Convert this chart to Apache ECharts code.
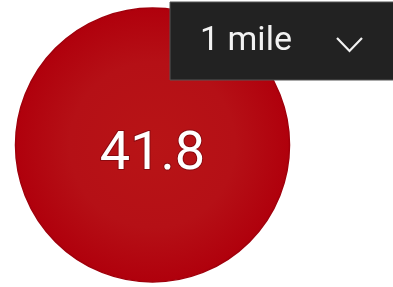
<!DOCTYPE html>
<html><head><meta charset="utf-8">
<script src="https://cdn.jsdelivr.net/npm/echarts@6/dist/echarts.min.js"></script>
<style>html,body{margin:0;padding:0;background:#fff}#c{width:393px;height:287px}</style>
</head><body><div id="c"></div>
<script>
const categories = ['1 mile'];
const values = [41.8];
const dropdownLabel = '1 mile';

const chart = echarts.init(document.getElementById('c'), null, {renderer: 'canvas'});
chart.setOption({
  animation: false,
  series: [{
    type: 'pie',
    z: 1,
    center: [152.5, 145],
    radius: [0, 137],
    silent: true,
    label: {
      show: true,
      position: 'center',
      formatter: p => p.value.toFixed(1),
      color: '#ffffff',
      fontFamily: 'Roboto',
      fontSize: 54,
      fontWeight: 'normal',
      textBorderColor: '#8a0a10',
      textBorderWidth: 2,
      offset: [0, 10]
    },
    labelLine: {show: false},
    itemStyle: {
      borderColor: '#a0000c',
      borderWidth: 1.5,
      color: {
        type: 'radial', x: 0.5, y: 0.5, r: 0.5,
        colorStops: [
          {offset: 0, color: '#b81416'},
          {offset: 0.6, color: '#b51016'},
          {offset: 1, color: '#b0000c'}
        ]
      }
    },
    data: categories.map((c, i) => ({name: c, value: values[i]}))
  }],
  graphic: {
    elements: [
      {type: 'rect', z: 100, zlevel: 1, shape: {x: 170, y: 2, width: 230, height: 78},
       style: {fill: '#222222', stroke: '#555555', lineWidth: 1}},
      {type: 'text', z: 101, zlevel: 1, x: 200, y: 41,
       style: {text: dropdownLabel, fill: '#f2f2f2', font: '34px Roboto', textVerticalAlign: 'middle'}},
      {type: 'polyline', z: 101, zlevel: 1, shape: {points: [[337, 38], [349.5, 51], [362, 38]]},
       style: {stroke: '#f2f2f2', lineWidth: 2.2, fill: null}}
    ]
  }
});
</script></body></html>
